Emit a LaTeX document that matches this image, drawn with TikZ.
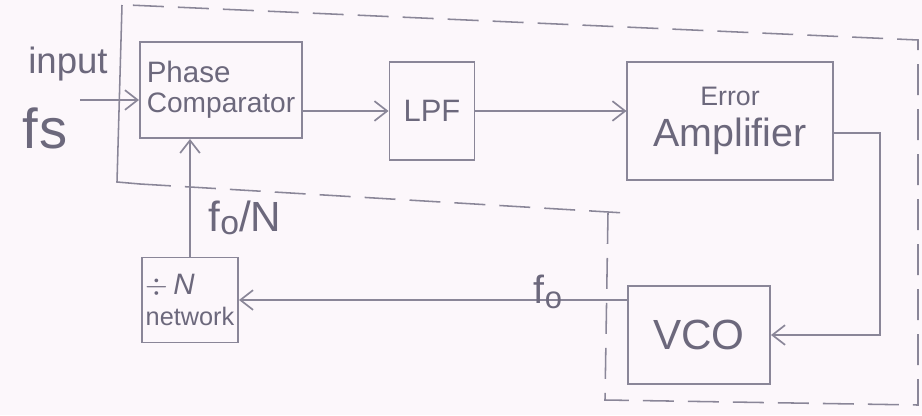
\documentclass[tikz,border=0pt]{standalone}
\usepackage{fontspec}
\setmainfont{Liberation Sans}
\usetikzlibrary{arrows.meta,calc}
\definecolor{ink}{HTML}{8A8698}
\definecolor{txt}{HTML}{6C687C}
\definecolor{paper}{HTML}{FCF7FB}
\tikzset{
  blk/.style={draw=ink, line width=1.4pt, rectangle, inner sep=2pt, text=txt, align=center},
  arr/.style={draw=ink, line width=1.3pt, -{Straight Barb[length=9pt,width=14pt,line width=1.2pt]}},
  bound/.style={draw=ink, line width=1.1pt, dash pattern=on 22pt off 10pt},
  lbl/.style={text=txt, inner sep=0pt}
}
\newcommand{\fz}[2]{\fontsize{#1}{#2}\selectfont}
\begin{document}
\begin{tikzpicture}[x=0.025cm,y=-0.025cm]
\fill[paper] (0,0) rectangle (922,415);
\useasboundingbox (0,0) rectangle (922,415);

% boundary of the loop
\draw[draw=ink, line width=1.1pt] (122,5) -- (117,182) -- (140,184);
\draw[bound] (140,184) -- (625,213);
\draw[bound] (608,213) -- (605,400) -- (918,405) -- (918,40) -- (128,5);

% blocks
\node[blk, minimum width=4.05cm, minimum height=2.4cm, align=left] (pc) at (221,90)
  {\fz{21}{24}Phase\\[6pt]\fz{20}{24}Comparator};
\node[blk, minimum width=2.125cm, minimum height=2.45cm] (lpf) at (432,111) {\fz{22}{26}LPF};
\node[blk, minimum width=5.125cm, minimum height=2.95cm] (ea) at (730,121)
  {\fz{19}{22}Error\\[8pt]\fz{28}{32}Amplifier};
\node[blk, minimum width=3.55cm, minimum height=2.45cm] (vco) at (699,335) {\fz{30}{34}VCO};
\node[blk, minimum width=2.4cm, minimum height=2.125cm, align=left] (div) at (190,300)
  {\fz{21}{24}$\div$\,\textit{N}\\[6pt]\fz{18}{22}network};

% connectors
\coordinate (in) at (80,100);
\draw[arr] (in) -- (in -| pc.west);
\draw[arr] (pc.east |- lpf.west) -- (lpf.west);
\draw[arr] (lpf.east) -- (lpf.east -| ea.west);
\coordinate (eo) at (880,133);
\draw[arr] (ea.east |- eo) -- (eo) |- (vco.east);
\draw[arr] (vco.west |- div.east) -- (div.east);
\draw[arr] (div.north) -- (div.north |- pc.south);

% labels
\node[lbl] (inp) at (68,64) {\fz{26}{30}input};
\node[lbl] (fs) at (45,128) {\fz{40}{44}f\kern1pt s};
\node[lbl] (fon) at (245,218) {\fz{30}{34}f\raisebox{-2pt}{\fz{24}{28}o}/N};
\node[lbl] (fo) at (548,292) {\fz{28}{32}f\raisebox{-3pt}{\fz{22}{26}o}};
\end{tikzpicture}
\end{document}
